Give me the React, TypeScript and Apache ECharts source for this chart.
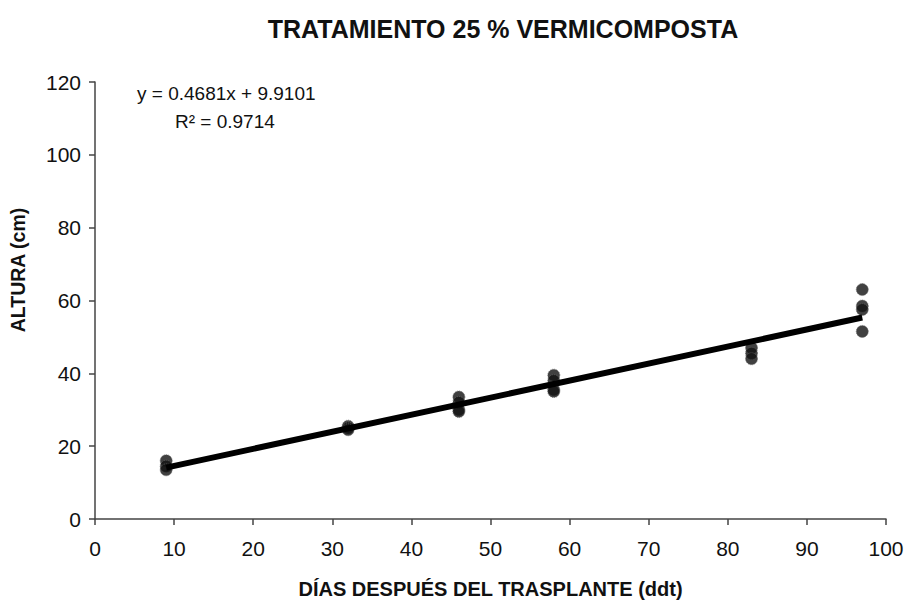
import React, { useEffect, useRef } from "react";
import * as echarts from "echarts";

const title = "TRATAMIENTO 25 % VERMICOMPOSTA";
const xName = "DÍAS DESPUÉS DEL TRASPLANTE (ddt)";
const yName = "ALTURA (cm)";
const equation = "y = 0.4681x + 9.9101";
const rSquared = "R² = 0.9714";

const days = [9, 9, 9, 32, 32, 32, 46, 46, 46, 46, 58, 58, 58, 58, 83, 83, 83, 97, 97, 97, 97];
const heights = [16, 14.5, 13.5, 25.5, 25, 24.5, 33.5, 32, 30, 29.5, 39.5, 38, 35.5, 35, 47, 45.5, 44, 63, 58.5, 57.5, 51.5];

const trendX = [9, 97];
const trendY = [14.12, 55.32];

export default function App() {
  const ref = useRef<HTMLDivElement>(null);
  useEffect(() => {
    if (!ref.current) return;
    const chart = echarts.init(ref.current, null, { renderer: "svg" });
    const font = "'Liberation Sans', Arial, sans-serif";
    chart.setOption({
      animation: false,
      backgroundColor: "#ffffff",
      title: {
        text: title,
        left: 498,
        top: 11,
        textAlign: "center",
        textStyle: { fontFamily: font, fontSize: 25, fontWeight: "bold", color: "#111" },
      },
      grid: { left: 95, right: 22, top: 82, bottom: 88, containLabel: false },
      xAxis: {
        type: "value",
        min: 0,
        max: 100,
        interval: 10,
        name: xName,
        nameLocation: "middle",
        nameGap: 60,
        nameTextStyle: { fontFamily: font, fontSize: 20, fontWeight: "bold", color: "#111" },
        axisLine: { show: true, lineStyle: { color: "#444", width: 1.5 } },
        axisTick: { show: true, inside: false, length: 6, lineStyle: { color: "#444", width: 1.5 } },
        axisLabel: { fontFamily: font, fontSize: 21, color: "#111", margin: 19 },
        splitLine: { show: false },
      },
      yAxis: {
        type: "value",
        min: 0,
        max: 120,
        interval: 20,
        axisLine: { show: true, lineStyle: { color: "#444", width: 1.5 } },
        axisTick: { show: true, inside: false, length: 6, lineStyle: { color: "#444", width: 1.5 } },
        axisLabel: { fontFamily: font, fontSize: 21, color: "#111", margin: 14 },
        splitLine: { show: false },
      },
      series: [
        {
          type: "line",
          data: trendX.map((x, i) => [x, trendY[i]]),
          showSymbol: false,
          lineStyle: { color: "#000", width: 6 },
          z: 3,
        },
        {
          type: "scatter",
          data: days.map((d, i) => [d, heights[i]]),
          symbol: "circle",
          symbolSize: 12,
          itemStyle: { color: "#111", borderColor: "#666", borderWidth: 1, borderType: "dotted" },
          z: 2,
        },
      ],
      graphic: [
        {
          type: "text",
          x: 18,
          y: 270,
          rotation: Math.PI / 2,
          style: {
            text: yName,
            fontFamily: font,
            fontSize: 19.5,
            fontWeight: "bold",
            fill: "#111",
            align: "center",
            verticalAlign: "middle",
          },
        },
        {
          type: "text",
          left: 137,
          top: 84,
          style: { text: equation, fontFamily: font, fontSize: 19, fill: "#111" },
        },
        {
          type: "text",
          left: 175,
          top: 112,
          style: { text: rSquared, fontFamily: font, fontSize: 19, fill: "#111" },
        },
      ],
    });
    return () => chart.dispose();
  }, []);
  return (
    <div
      ref={ref}
      style={{ position: "fixed", left: 0, top: 0, width: 908, height: 607, background: "#fff" }}
    />
  );
}
